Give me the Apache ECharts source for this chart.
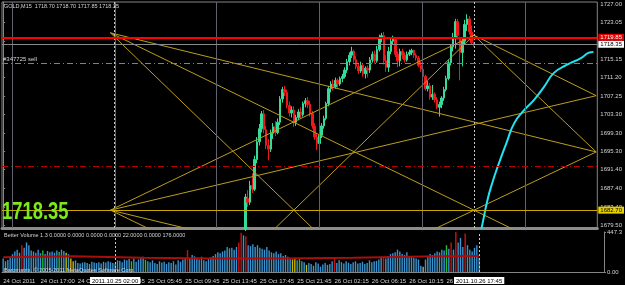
<!DOCTYPE html>
<html>
<head>
<meta charset="utf-8">
<script src="https://cdn.jsdelivr.net/npm/echarts@6/dist/echarts.min.js"></script>
<style>
html, body { margin: 0; padding: 0; background: #000; }
#myChart { width: 625px; height: 285px; }
</style>
</head>
<body>
<div id="myChart"></div>
<script>
// bar slots on the time axis (bars + empty shift on the right)
var SLOTS = 258;

// time axis labels (slot index -> text)
var xTickIdx = [0, 16, 32, 46, 62, 78, 94, 110, 126, 142, 158, 174, 190];
var xTickText = ['24 Oct 2011', '24 Oct 17:00', '24 Oct 21:00', '25 Oct 01:45', '25 Oct 05:45', '25 Oct 09:45',
  '25 Oct 13:45', '25 Oct 17:45', '25 Oct 21:45', '26 Oct 02:15', '26 Oct 06:15', '26 Oct 10:15', '26 Oct 14:15'];
// vertical line objects and their time boxes
var markIdx = [48, 204];
var markText = ['2011.10.25 02:00', '2011.10.26 17:45'];

// price scale
var PRICE_MIN = 1678.86;
var PRICE_MAX = 1727.43;
var priceTicks = [1727.00, 1723.05, 1719.10, 1715.15, 1711.20, 1707.25, 1703.30, 1699.30, 1695.30, 1691.40, 1687.40, 1683.40, 1679.50];

// volume scale
var VOL_MAX = 447.3;
var volTicks = [447.3, 0];
var volTickText = ['447.3', '0.00'];

// candles: first visible slot, then [open, close, low, high]
var candleStart = 105;
var ohlc = [
  [1678.6, 1685.5, 1678.2, 1686.2], [1685.2, 1684.4, 1683.4, 1687.0], [1684.4, 1688.0, 1683.8, 1689.0], [1688.0, 1687.2, 1686.4, 1690.6],
  [1687.2, 1693.6, 1686.8, 1694.4], [1693.6, 1697.4, 1692.8, 1698.4], [1697.4, 1700.2, 1696.6, 1701.2], [1700.2, 1703.4, 1699.4, 1704.0],
  [1703.4, 1700.0, 1699.2, 1704.2], [1700.0, 1696.6, 1695.8, 1700.8], [1696.6, 1695.8, 1693.4, 1698.0], [1695.8, 1699.2, 1695.2, 1700.0],
  [1699.2, 1700.6, 1698.0, 1701.4], [1700.6, 1699.4, 1698.6, 1701.8], [1699.4, 1701.6, 1699.0, 1702.4], [1701.6, 1706.6, 1701.0, 1707.2],
  [1706.6, 1708.6, 1705.8, 1709.2], [1708.6, 1708.0, 1707.2, 1709.4], [1708.0, 1705.2, 1704.6, 1708.6], [1705.2, 1703.6, 1702.8, 1706.0],
  [1703.6, 1704.2, 1702.6, 1705.0], [1704.2, 1701.6, 1700.6, 1705.0], [1701.6, 1702.6, 1700.8, 1703.2], [1702.6, 1703.8, 1702.0, 1704.4],
  [1703.8, 1703.2, 1702.4, 1704.8], [1703.2, 1705.6, 1702.8, 1706.0], [1705.6, 1706.2, 1704.8, 1706.8], [1706.2, 1705.4, 1704.6, 1707.0],
  [1705.4, 1703.4, 1702.8, 1706.2], [1703.4, 1700.8, 1700.2, 1704.0], [1700.8, 1698.4, 1697.8, 1701.4], [1698.4, 1697.0, 1695.6, 1699.2],
  [1697.0, 1698.8, 1696.4, 1699.4], [1698.8, 1700.8, 1698.2, 1701.4], [1700.8, 1702.4, 1700.2, 1703.0], [1702.4, 1705.6, 1702.0, 1706.0],
  [1705.6, 1708.8, 1705.0, 1709.4], [1708.8, 1709.8, 1708.0, 1710.4], [1709.8, 1709.2, 1708.4, 1710.8], [1709.2, 1710.6, 1708.8, 1711.2],
  [1710.6, 1709.8, 1709.0, 1711.0], [1709.8, 1711.0, 1709.4, 1711.4], [1711.0, 1711.4, 1710.2, 1712.0], [1711.4, 1712.8, 1711.0, 1713.4],
  [1712.8, 1714.6, 1712.2, 1715.2], [1714.6, 1716.0, 1713.8, 1716.6], [1716.0, 1716.8, 1715.4, 1717.8], [1716.8, 1715.0, 1714.4, 1717.2],
  [1715.0, 1713.6, 1713.0, 1715.8], [1713.6, 1712.6, 1712.0, 1714.4], [1712.6, 1713.8, 1712.2, 1714.6], [1713.8, 1712.0, 1711.4, 1714.2],
  [1712.0, 1713.2, 1711.0, 1713.6], [1713.2, 1712.8, 1711.2, 1713.8], [1712.8, 1715.0, 1712.2, 1715.6], [1715.0, 1716.2, 1714.4, 1716.8],
  [1716.2, 1714.8, 1714.2, 1717.0], [1714.8, 1717.2, 1714.4, 1718.0], [1717.2, 1719.6, 1716.8, 1720.4], [1719.6, 1720.2, 1718.8, 1720.8],
  [1720.2, 1714.8, 1714.0, 1721.0], [1714.8, 1713.4, 1712.4, 1716.0], [1713.4, 1716.8, 1712.4, 1717.8], [1716.8, 1719.0, 1716.2, 1719.8],
  [1719.0, 1719.4, 1718.2, 1720.2], [1719.4, 1716.2, 1715.6, 1719.6], [1716.2, 1714.8, 1713.4, 1716.8], [1714.8, 1716.8, 1713.6, 1717.4],
  [1716.8, 1716.0, 1715.2, 1717.4], [1716.0, 1715.0, 1714.4, 1716.6], [1715.0, 1716.2, 1714.6, 1716.8], [1716.2, 1716.6, 1715.8, 1717.2],
  [1716.6, 1717.0, 1716.0, 1717.4], [1717.0, 1716.0, 1715.4, 1717.2], [1716.0, 1715.4, 1714.8, 1716.4], [1715.4, 1713.8, 1713.4, 1715.8],
  [1713.8, 1713.0, 1712.4, 1714.6], [1713.0, 1711.4, 1710.8, 1713.4], [1711.4, 1708.8, 1708.4, 1711.8], [1708.8, 1709.4, 1708.2, 1710.4],
  [1709.4, 1707.0, 1706.4, 1710.0], [1707.0, 1707.6, 1706.4, 1709.6], [1707.6, 1706.4, 1705.8, 1708.0], [1706.4, 1704.8, 1704.4, 1707.0],
  [1704.8, 1705.4, 1702.8, 1706.0], [1705.4, 1706.8, 1704.6, 1707.2], [1706.8, 1708.6, 1706.2, 1709.2], [1708.6, 1711.0, 1708.2, 1711.6],
  [1711.0, 1714.4, 1710.6, 1715.0], [1714.4, 1717.8, 1713.8, 1718.4], [1717.8, 1719.6, 1716.8, 1720.8], [1719.6, 1723.2, 1717.4, 1723.8],
  [1723.2, 1720.2, 1719.4, 1723.8], [1719.8, 1716.6, 1710.6, 1720.0], [1716.6, 1719.0, 1713.6, 1719.8], [1719.0, 1722.6, 1718.4, 1723.6],
  [1722.6, 1723.8, 1721.2, 1724.8], [1723.8, 1721.0, 1720.4, 1724.4], [1721.0, 1718.7, 1718.4, 1722.4], [1718.70, 1718.35, 1717.85, 1718.70]
];

// Better Volume bars, slot 0..204
var volume = [
  150, 120, 135, 170, 200, 230, 250, 215, 300, 270,
  330, 300, 240, 230, 215, 250, 210, 240, 200, 235,
  220, 230, 215, 240, 225, 250, 235, 215, 200, 150,
  120, 130, 100, 95, 105, 110, 100, 90, 115, 105,
  100, 110, 95, 115, 105, 120, 110, 100, 95, 130,
  125, 110, 140, 130, 145, 120, 150, 115, 140, 160,
  170, 135, 120, 110, 130, 100, 90, 120, 105, 115,
  90, 110, 100, 120, 85, 130, 115, 140, 160, 245,
  150, 190, 175, 160, 140, 170, 130, 120, 150, 165,
  180, 200, 220, 210, 230, 240, 280, 265, 270, 250,
  280, 330, 440, 410, 400, 300, 290, 310, 280, 300,
  270, 260, 250, 280, 240, 220, 210, 230, 200, 210,
  180, 190, 170, 150, 140, 160, 130, 150, 120, 110,
  80, 100, 90, 70, 110, 95, 60, 85, 100, 80,
  90, 120, 165, 100, 130, 110, 95, 120, 105, 90,
  110, 120, 95, 100, 115, 90, 100, 130, 110, 120,
  125, 140, 170, 160, 150, 180, 200, 210, 220, 250,
  230, 200, 190, 220, 180, 170, 160, 150, 140, 70,
  60, 140, 180, 200, 190, 210, 230, 220, 250, 240,
  300, 260, 330, 250, 447, 330, 380, 280, 430, 300,
  250, 230, 270, 300, 160
];
// bar kinds of the indicator
var climaxIdx = [8, 79, 101, 102, 104, 142, 163, 192, 194, 198];
var churnIdx = [17, 24, 55, 61, 127, 190];
var lowIdx = [27, 29, 30, 124, 125, 130];
var climaxChurnIdx = [180];
// volume average line [slot, value]
var volAvg = [[0, 165], [30, 175], [60, 160], [90, 152], [120, 152], [150, 160], [180, 172], [204, 180]];

// levels on the price chart
var alertPrice = 1719.85;
var bidPrice = 1718.35;
var orderPrice = 1714.3;
var orderName = '#347725 sell';
var stopPrice = 1692.2;
var supportPrice = 1682.7;

// trend line objects, [slot, price] anchors
var trendLines = [
  [[46.5, 1720.8], [257, 1695.2]],
  [[46.5, 1720.8], [240, 1674.0]],
  [[46.5, 1720.8], [136, 1677.9]],
  [[46.5, 1682.7], [204, 1720.3]],
  [[46.5, 1682.7], [257, 1707.3]],
  [[46.5, 1682.7], [66, 1678.0]],
  [[46.5, 1682.7], [90, 1677.5]],
  [[204, 1720.3], [257, 1707.3]],
  [[204, 1720.3], [257, 1695.2]],
  [[204, 1720.3], [116, 1677.9]],
  [[180, 1677.0], [257, 1695.2]]
];
// cyan projected curve [slot, price]
var cyanCurve = [[206.6, 1677.6], [207.4, 1679.0], [209.9, 1684.9], [212, 1688.6], [214.3, 1692.0], [218.1, 1697.1], [221.5, 1701.4],
  [225.8, 1704.2], [230.1, 1706.4], [234.4, 1709.2], [238.7, 1712.2], [244.2, 1713.9], [250.6, 1715.4], [253.6, 1716.5], [255.8, 1716.7]];
// vertical grid of the chart window, in slots
var gridSlots = [3.8, 48.4, 92.5, 137.1, 181.6, 226.2];

var header = 'GOLD,M15  1718.70 1718.70 1717.85 1718.35';
var volHeader = 'Better Volume 1.3 0.0000 0.0000 0.0000 0.0000 22.0000 0.0000 176.0000';
var copyright = 'Baromatrix, \u00a9 2005-2011 MetaQuotes Software Corp.';
var bigPrice = '1718.35';

var slots = [];
for (var i = 0; i < SLOTS; i++) slots.push(String(i));

var candleData = ohlc.map(function (c, j) { return [candleStart + j].concat(c); });

function volColor(i) {
  if (climaxIdx.indexOf(i) >= 0) return '#d01010';
  if (churnIdx.indexOf(i) >= 0) return '#20c030';
  if (lowIdx.indexOf(i) >= 0) return '#d0b800';
  if (climaxChurnIdx.indexOf(i) >= 0) return '#a8a8a8';
  return '#3a94d0';
}
var volData = volume.map(function (v, i) { return { value: v, itemStyle: { color: volColor(i) } }; });

var GRAY = '#858585';
var TXT = '#d4d4d4';
var TREND = '#bc9e1e';

var myChart = echarts.init(document.getElementById('myChart'));
var option = {
  backgroundColor: '#000',
  animation: false,
  textStyle: { fontFamily: 'Liberation Sans' },
  grid: [
    { left: 2, right: 21, top: 2, height: 226, show: true, borderColor: GRAY, borderWidth: 1 },
    { left: 2, right: 21, top: 232, height: 40 }
  ],
  xAxis: [
    { type: 'category', gridIndex: 0, data: slots, axisLine: { lineStyle: { color: '#8c8c8c', width: 3 } },
      axisTick: { show: false }, axisLabel: { show: false } },
    { type: 'value', gridIndex: 0, min: -0.5, max: SLOTS - 0.5, show: false },
    { type: 'category', gridIndex: 1, data: slots, position: 'bottom', offset: 3,
      axisLine: { lineStyle: { color: GRAY } },
      axisTick: { alignWithLabel: true, length: 3, lineStyle: { color: GRAY },
        interval: function (i) { return xTickIdx.indexOf(i) >= 0; } },
      axisLabel: { interval: function (i) { return xTickIdx.indexOf(i) >= 0; },
        formatter: function (v, i) { return xTickText[xTickIdx.indexOf(i)]; },
        align: 'left', color: TXT, fontSize: 6, margin: 3 } },
    { type: 'category', gridIndex: 1, data: slots, position: 'bottom', offset: 3,
      axisLine: { show: false }, axisTick: { show: false },
      axisLabel: { interval: function (i) { return markIdx.indexOf(i) >= 0; },
        formatter: function (v, i) { return markText[markIdx.indexOf(i)]; },
        align: 'center', color: '#000', backgroundColor: '#fff', padding: [1, 2, 0, 2], fontSize: 6, margin: 2 } }
  ],
  yAxis: [
    { type: 'value', gridIndex: 0, position: 'right', min: PRICE_MIN, max: PRICE_MAX,
      axisLine: { show: true, lineStyle: { color: GRAY } },
      axisTick: { show: true, customValues: priceTicks, length: 2, lineStyle: { color: GRAY } },
      axisLabel: { customValues: priceTicks, formatter: function (v) { return v.toFixed(2); }, color: TXT, fontSize: 6, margin: 3 },
      splitLine: { show: false } },
    { type: 'value', gridIndex: 1, position: 'right', min: 0, max: VOL_MAX,
      axisLine: { show: true, lineStyle: { color: GRAY } },
      axisTick: { show: true, customValues: volTicks, length: 2, lineStyle: { color: GRAY } },
      axisLabel: { customValues: volTicks, formatter: function (v) { return volTickText[volTicks.indexOf(v)]; }, color: TXT, fontSize: 6, margin: 3 },
      splitLine: { show: false } }
  ],
  series: [
    // window grid
    { type: 'line', xAxisIndex: 1, yAxisIndex: 0, data: [], z: 1, silent: true,
      markLine: { silent: true, symbol: ['none', 'none'], label: { show: false },
        lineStyle: { color: '#62626e', width: 1, type: 'solid' },
        data: gridSlots.map(function (s) { return { xAxis: s }; }) } },
    { type: 'candlestick', xAxisIndex: 0, yAxisIndex: 0, data: candleData, encode: { x: 0, y: [1, 2, 3, 4] },
      barWidth: 2, clip: true, z: 2,
      itemStyle: { color: '#34dc9c', color0: '#f01818', borderColor: '#34dc9c', borderColor0: '#f01818', borderWidth: 1 },
      markLine: { silent: true, symbol: ['none', 'none'], z: 5,
        data: [
          { xAxis: markIdx[0], lineStyle: { color: '#c8c8c8', type: [2, 2], width: 1 }, label: { show: false } },
          { xAxis: markIdx[1], lineStyle: { color: '#c8c8c8', type: [2, 2], width: 1 }, label: { show: false } },
          { yAxis: supportPrice, lineStyle: { color: '#c8a800', type: 'solid', width: 1 },
            label: { position: 'end', distance: 1, formatter: supportPrice.toFixed(2), color: '#000', backgroundColor: '#e6d000', padding: [1, 2, 0, 2], fontSize: 6 } },
          { yAxis: stopPrice, lineStyle: { color: '#b80000', type: [6, 3, 1, 3], width: 1 }, label: { show: false } },
          { yAxis: orderPrice, lineStyle: { color: '#00d040', type: [6, 3, 1, 3], width: 1 },
            label: { position: 'insideStartTop', distance: 1, formatter: orderName, color: TXT, fontSize: 6 } },
          { yAxis: bidPrice, lineStyle: { color: '#8a8a8a', type: 'solid', width: 1 },
            label: { position: 'end', distance: 1, formatter: bidPrice.toFixed(2), color: '#000', backgroundColor: '#fff', padding: [1, 2, 0, 2], fontSize: 6 } },
          { yAxis: alertPrice, lineStyle: { color: '#ff0000', type: 'solid', width: 2 },
            label: { position: 'end', distance: 1, formatter: alertPrice.toFixed(2), color: '#fff', backgroundColor: '#e00000', padding: [1, 2, 0, 2], fontSize: 6 } }
        ] } }
  ].concat(trendLines.map(function (seg) {
    return { type: 'line', xAxisIndex: 1, yAxisIndex: 0, data: seg, symbol: 'none', clip: true, silent: true, z: 3,
      lineStyle: { color: TREND, width: 1 } };
  })).concat([
    { type: 'line', xAxisIndex: 1, yAxisIndex: 0, data: cyanCurve, smooth: true, symbol: 'none', clip: true, silent: true, z: 4,
      lineStyle: { color: '#20e4f2', width: 2 } },
    { type: 'bar', xAxisIndex: 2, yAxisIndex: 1, data: volData, barWidth: 1.4, silent: true,
      markLine: { silent: true, symbol: ['none', 'none'], label: { show: false },
        lineStyle: { color: '#c8c8c8', type: [2, 2], width: 1 },
        data: markIdx.map(function (k) { return { xAxis: k }; }) } },
    { type: 'line', xAxisIndex: 2, yAxisIndex: 1, data: volAvg, symbol: 'none', silent: true,
      lineStyle: { color: '#a80e0e', width: 2 } }
  ]),
  graphic: [
    { type: 'text', left: 4, top: 3, z: 100, style: { text: header, fill: TXT, font: '5.5px "Liberation Sans"' } },
    { type: 'text', left: 4, top: 232, z: 100, style: { text: volHeader, fill: TXT, font: '5.5px "Liberation Sans"' } },
    { type: 'text', left: 4, top: 267, z: 100, style: { text: copyright, fill: TXT, font: '5.5px "Liberation Sans"' } },
    { type: 'text', x: 2, y: 201, scaleX: 0.8, z: 100, style: { text: bigPrice, fill: '#7fe81a', font: 'bold 23px "Liberation Sans"' } }
  ]
};
window.onresize = myChart.resize;
myChart.setOption(option);
</script>
</body>
</html>
